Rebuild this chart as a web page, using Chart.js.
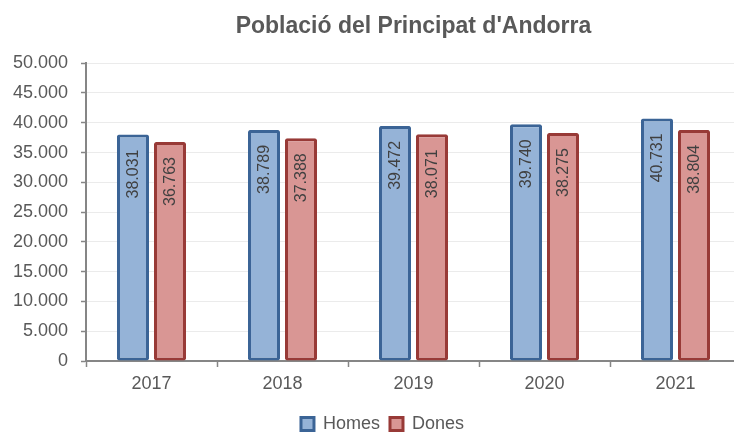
<!DOCTYPE html>
<html>
<head>
<meta charset="utf-8">
<script src="https://cdn.jsdelivr.net/npm/chart.js@4.4.1/dist/chart.umd.min.js"></script>
<style>
    html, body { margin: 0; padding: 0; background: #fff; overflow: hidden; }
    #wrap { position: relative; width: 745px; height: 443px; }
</style>
</head>
<body>
<div id="wrap"><canvas id="chart"></canvas></div>
<script>
// Chart data
const years = ['2017', '2018', '2019', '2020', '2021'];
const homes = [38031, 38789, 39472, 39740, 40731];
const dones = [36763, 37388, 38071, 38275, 38804];
const yMax = 50000;
const yStep = 5000;

const FONT = "'Liberation Sans', Arial, sans-serif";
const GREY_TEXT = '#595959';
const AXIS = '#868686';

// 38031 -> "38.031"
function fmt(v) {
    return String(v).replace(/\B(?=(\d{3})+(?!\d))/g, '.');
}

// Vertical value labels inside the top of every bar
const barLabels = {
    id: 'barLabels',
    afterDatasetsDraw(chart) {
        const ctx = chart.ctx;
        chart.data.datasets.forEach((ds, i) => {
            chart.getDatasetMeta(i).data.forEach((bar, j) => {
                ctx.save();
                ctx.translate(bar.x, bar.y + 15);
                ctx.rotate(-Math.PI / 2);
                ctx.font = `16px ${FONT}`;
                ctx.fillStyle = '#404040';
                ctx.textAlign = 'right';
                ctx.textBaseline = 'middle';
                ctx.fillText(fmt(ds.data[j]), 0, 1);
                ctx.restore();
            });
        });
    }
};

// The legend sits a little right of the canvas centre in the original
const legendShift = {
    id: 'legendShift',
    afterLayout(chart) {
        const lg = chart.legend;
        if (!lg) return;
        lg.left += 12;
        lg.right += 12;
    }
};

const ctx = document.getElementById('chart').getContext('2d');
new Chart(ctx, {
    type: 'bar',
    data: {
        labels: years,
        datasets: [
            {
                label: 'Homes',
                data: homes,
                backgroundColor: '#95B3D7',
                borderColor: '#3B6496',
                borderWidth: 3,
                borderRadius: 2,
                borderSkipped: false
            },
            {
                label: 'Dones',
                data: dones,
                backgroundColor: '#D99694',
                borderColor: '#983A37',
                borderWidth: 3,
                borderRadius: 2,
                borderSkipped: false
            }
        ]
    },
    options: {
        responsive: true,
        maintainAspectRatio: false,
        animation: false,
        datasets: {
            bar: { categoryPercentage: 0.565, barPercentage: 0.865 }
        },
        layout: { padding: { left: 0, right: 4, top: 0, bottom: 0 } },
        plugins: {
            title: {
                display: true,
                text: "Població del Principat d'Andorra",
                fullSize: false,
                color: GREY_TEXT,
                font: { family: FONT, size: 23, weight: 'bold' },
                padding: { top: 13, bottom: 22.6 }
            },
            legend: {
                position: 'bottom',
                labels: {
                    color: GREY_TEXT,
                    font: { family: FONT, size: 18 },
                    boxWidth: 13,
                    boxHeight: 13,
                    padding: 10
                }
            },
            tooltip: { enabled: false }
        },
        scales: {
            x: {
                afterFit(scale) { scale.height = 44; },
                grid: {
                    display: true,
                    drawOnChartArea: false,
                    offset: true,
                    tickLength: 6,
                    tickColor: AXIS,
                    tickWidth: 1.5
                },
                border: { display: true, color: AXIS, width: 2 },
                ticks: {
                    color: GREY_TEXT,
                    font: { family: FONT, size: 18 },
                    padding: 6
                }
            },
            y: {
                min: 0,
                max: yMax,
                afterFit(scale) { scale.width = 86; },
                ticks: {
                    stepSize: yStep,
                    color: GREY_TEXT,
                    font: { family: FONT, size: 18 },
                    padding: 13,
                    callback: (v) => fmt(v)
                },
                grid: {
                    color: '#EBEBEB',
                    lineWidth: 1,
                    tickLength: 5,
                    tickColor: AXIS,
                    tickWidth: 1.5
                },
                border: { display: true, color: AXIS, width: 2 }
            }
        }
    },
    plugins: [barLabels, legendShift]
});
</script>
</body>
</html>
